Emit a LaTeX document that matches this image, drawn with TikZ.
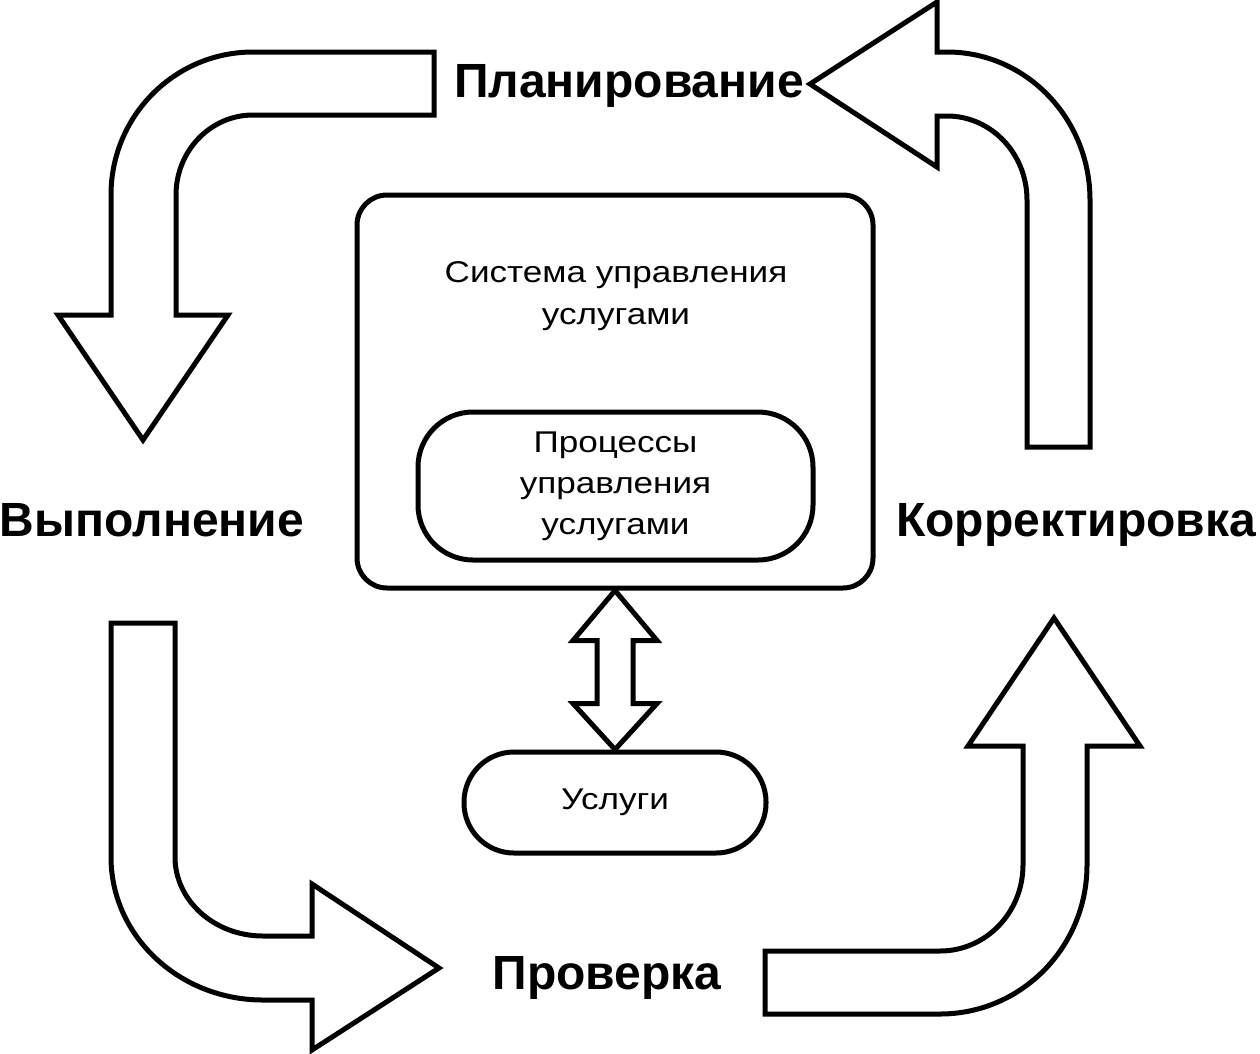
\documentclass[tikz,border=0pt]{standalone}
\usepackage{fontspec}
\setmainfont{Liberation Sans}
\newfontfamily\widefont[FakeStretch=1.17]{Liberation Sans}
\begin{document}
\begin{tikzpicture}[x=1pt,y=-1pt]
\tikzset{
  bigarrow/.style={draw=black, line width=5pt, fill=white, line join=miter},
  boxshape/.style={draw=black, line width=5pt, fill=white, inner sep=0pt},
  lab/.style={font=\fontsize{48}{58}\selectfont\bfseries, inner sep=0pt, anchor=base},
  txt/.style={font=\widefont\fontsize{30}{41}\selectfont, align=center, inner sep=0pt}
}
\useasboundingbox (0,0) rectangle (1260,1053);
\fill[white] (0,0) rectangle (1260,1053);

% top-left arrow (Планирование -> Выполнение)
\draw[bigarrow] (434,52) -- (253,52) .. controls (174.6,52) and (111,116) .. (111,195)
  -- (111,315) -- (58,315) -- (143,440) -- (228,315) -- (176,315) -- (176,195)
  .. controls (176,150.8) and (210.5,115) .. (253,115) -- (434,115) -- cycle;

% top-right arrow (Корректировка -> Планирование)
\draw[bigarrow] (810,84) -- (937,2) -- (937,52) -- (947,52)
  .. controls (1026,52) and (1090,118.3) .. (1090,200) -- (1090,447) -- (1027,447)
  -- (1027,200) .. controls (1027,153.6) and (991.2,116) .. (947,116)
  -- (937,116) -- (937,167) -- cycle;

% bottom-left arrow (Выполнение -> Проверка)
\draw[bigarrow] (111,623) -- (111,857) .. controls (111,936) and (179.1,1000) .. (263,1000)
  -- (312,1000) -- (312,1050) -- (439,968) -- (312,884) -- (312,936) -- (263,936)
  .. controls (214.4,936) and (175,900.6) .. (175,857) -- (175,623) -- cycle;

% bottom-right arrow (Проверка -> Корректировка)
\draw[bigarrow] (765,951) -- (940,951) .. controls (985.8,951) and (1023,912.5) .. (1023,865)
  -- (1023,746) -- (968,746) -- (1054,618) -- (1140,746) -- (1087,746) -- (1087,865)
  .. controls (1087,947.3) and (1021.2,1014) .. (940,1014) -- (765,1014) -- cycle;

% labels
\node[lab] (plan) at (629,97) {Планирование};
\node[lab] (vyp) at (152,536) {Выполнение};
\node[lab] (korr) at (1076,536) {Корректировка};
\node[lab] (prov) at (607,989) {Проверка};

% central system box
\node[boxshape, rounded corners=30pt, minimum width=516pt, minimum height=393pt] (sys) at (615,391.5) {};
\node[txt, font=\widefont\fontsize{30}{42}\selectfont] (systxt) at (616,296.5) {Система управления\\услугами};
\node[boxshape, txt, rounded corners=55pt, minimum width=395pt, minimum height=148pt] (proc) at (615.5,486) {Процессы\\управления\\услугами};

% services
\node[boxshape, txt, rounded corners=50pt, minimum width=302pt, minimum height=101pt] (usl) at (615,802.5) {Услуги};

% double arrow between system and services
\draw[bigarrow] (sys.south) -- ++(42,50) -- ++(-24,0) -- ++(0,63) -- ++(24,0) -- (usl.north)
  -- ++(-42,-46) -- ++(24,0) -- ++(0,-63) -- ++(-24,0) -- cycle;
\end{tikzpicture}
\end{document}
